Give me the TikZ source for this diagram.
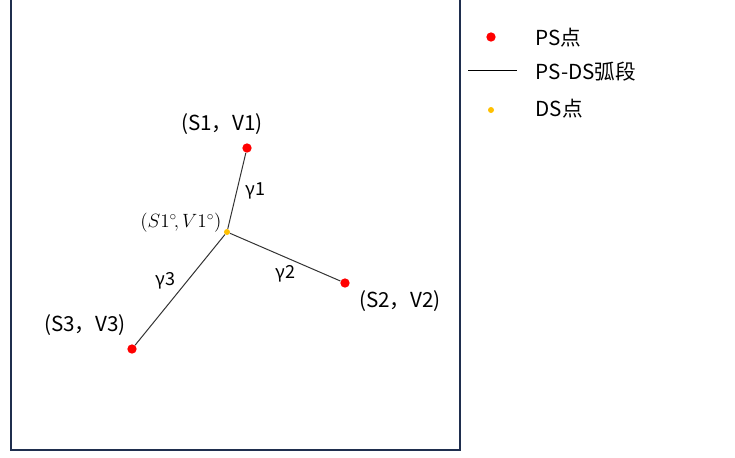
\documentclass[tikz,border=0pt]{standalone}
\usepackage{amsmath}
\usepackage{fontspec}
\setmainfont{Noto Sans CJK SC}
\usetikzlibrary{positioning}
\definecolor{psred}{HTML}{FF0000}
\definecolor{dsorange}{HTML}{FFC000}
\definecolor{frame}{HTML}{1F2E4E}

\begin{document}
\begin{tikzpicture}[x=0.75pt,y=-0.75pt,
  ps/.style={circle, fill=psred, inner sep=0pt, minimum size=7pt},
  ds/.style={circle, fill=dsorange, inner sep=0pt, minimum size=4.5pt},
  seg/.style={draw=black!80, line width=0.75pt},
  lb/.style={font=\fontsize{15.5}{18}\selectfont, inner sep=1pt},
  gl/.style={font=\fontsize{13.5}{16}\selectfont, inner sep=1pt},
]
\useasboundingbox (0,0) rectangle (735,457);
\draw[frame, line width=1.6pt] (11,-10) -- (11,450) -- (460,450) -- (460,-10);

% points
\node[ps] (S1) at (247,148) {};
\node[ps] (S2) at (345,283) {};
\node[ps] (S3) at (132,349) {};
\node[ds] (D)  at (227,232) {};

\draw[seg] (S1) -- node[gl, right=5pt] {γ1} (D);
\draw[seg] (D) -- node[gl, below=5pt] {γ2} (S2);
\draw[seg] (D) -- node[gl, above left=-1pt and 2pt] {γ3} (S3);

\node[lb] (L1) at (222,124) {(S1，V1)};
\node[lb] (L2) at (400,301) {(S2，V2)};
\node[lb] (L3) at (85,325)  {(S3，V3)};
\node[font=\fontsize{14.5}{17}\selectfont, inner sep=1pt, anchor=east] (LD) at (223,223)
  {$(S1^\circ\!,V1^\circ)$};

% legend
\node[ps] (kp) at (491,37) {};
\node[lb, anchor=west] (tp) at (534,38) {PS点};
\coordinate (ka) at (468,70);
\coordinate (kb) at (517,70);
\draw[black, line width=0.75pt] (ka) -- (kb);
\node[lb, anchor=west] (ta) at (534,72) {PS-DS弧段};
\node[ds] (kd) at (491,110) {};
\node[lb, anchor=west] (td) at (534,109) {DS点};
\end{tikzpicture}
\end{document}
